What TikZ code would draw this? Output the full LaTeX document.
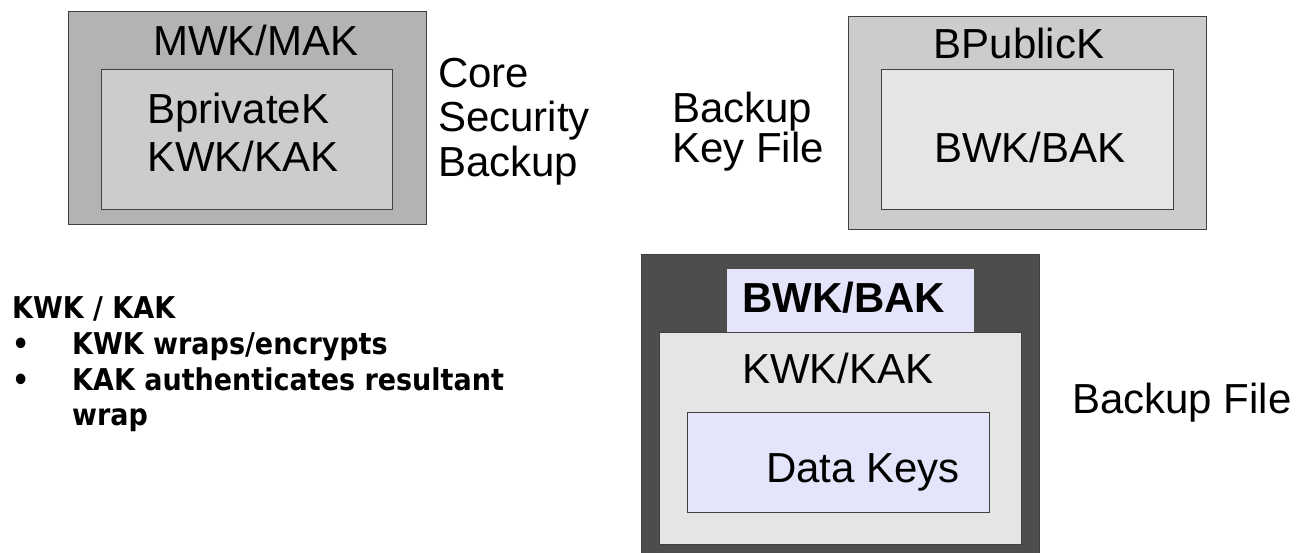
\documentclass[tikz,border=0pt]{standalone}
\usepackage{fontspec}
\setmainfont{Liberation Sans}
\newfontfamily\notefont[FakeStretch=0.9]{DejaVu Sans}
\definecolor{gA}{RGB}{179,179,179}
\definecolor{gB}{RGB}{204,204,204}
\definecolor{gC}{RGB}{229,229,229}
\definecolor{gD}{RGB}{77,77,77}
\definecolor{lav}{RGB}{228,228,250}
\definecolor{edge}{RGB}{64,64,64}
\tikzset{
  boxshape/.style={draw=edge, line width=1pt, rectangle, inner sep=0pt, anchor=north west},
  big/.style={inner sep=0pt, font=\fontsize{42}{48}\selectfont},
  note/.style={inner sep=0pt, anchor=base west, font=\notefont\bfseries\fontsize{30}{35}\selectfont}
}
\begin{document}
\begin{tikzpicture}[x=1pt,y=-1pt]
\useasboundingbox (0,0) rectangle (1307,553);
% box 1
\node[boxshape, fill=gA, minimum width=358pt, minimum height=213pt] (b1) at (68,11) {};
\node[boxshape, fill=gB, minimum width=291pt, minimum height=140pt] (b1in) at (101,69) {};
\node[big, anchor=base] (mwk) at (256,56) {MWK/MAK};
\node[big, anchor=base west] (bpriv) at (147,124) {BprivateK};
\node[big, anchor=base west] (kwk1) at (147,172) {KWK/KAK};
\node[big, anchor=base west] (core) at (438,88) {Core};
\node[big, anchor=base west] (sec) at (438,132) {Security};
\node[big, anchor=base west] (bkp) at (438,177) {Backup};
% box 2
\node[boxshape, fill=gB, minimum width=358pt, minimum height=213pt] (b2) at (848,16) {};
\node[boxshape, fill=gC, minimum width=292pt, minimum height=140pt] (b2in) at (881,69) {};
\node[big, anchor=base] (bpub) at (1019,59) {BPublicK};
\node[big, anchor=base] (bwk1) at (1030,163) {BWK/BAK};
\node[big, anchor=base west] (bk2) at (672,123) {Backup};
\node[big, anchor=base west] (kf) at (672,163) {Key File};
% box 3
\node[boxshape, fill=gD, minimum width=398pt, minimum height=300pt] (b3) at (641,254) {};
\node[rectangle, inner sep=0pt, anchor=north west, fill=lav, minimum width=247pt, minimum height=63pt] (b3lab) at (727,269) {};
\node[boxshape, fill=gC, minimum width=362pt, minimum height=212pt] (b3mid) at (659,332) {};
\node[boxshape, fill=lav, minimum width=302pt, minimum height=100pt] (b3in) at (687,412) {};
\node[big, anchor=base west, font=\bfseries\fontsize{42}{48}\selectfont] (bwk2) at (742,313) {BWK/BAK};
\node[big, anchor=base west] (kwk2) at (742,383) {KWK/KAK};
\node[big, anchor=base west] (dk) at (766,482) {Data Keys};
\node[big, anchor=base west] (bf) at (1072,413) {Backup File};
% notes
\node[note] (n0) at (12,319) {KWK / KAK};
\node[note] (d1) at (12,355) {•};
\node[note] (n1) at (72,355) {KWK wraps/encrypts};
\node[note] (d2) at (12,390) {•};
\node[note] (n2) at (72,390) {KAK authenticates resultant};
\node[note] (n3) at (72,425) {wrap};
\end{tikzpicture}
\end{document}
